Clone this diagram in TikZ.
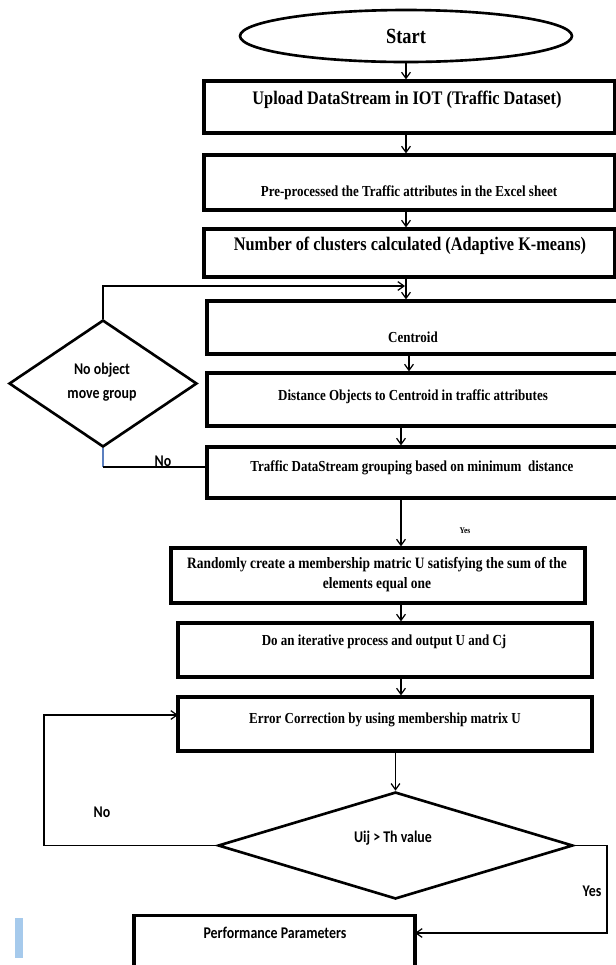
\documentclass[tikz,border=0pt]{standalone}
\usepackage{fontspec}
\setmainfont{Liberation Serif}[FakeStretch=0.85]
\newfontfamily\calibri{Carlito}[FakeStretch=0.85]
\usetikzlibrary{shapes.geometric, arrows.meta}

\definecolor{barblue}{HTML}{A6CAEC}
\definecolor{linkblue}{HTML}{5B7FBF}

\tikzset{
  box/.style={draw, rectangle, line width=1.8pt, inner sep=0pt},
  bigtxt/.style={font=\bfseries\fontsize{10.9}{13}\selectfont},
  smalltxt/.style={font=\bfseries\fontsize{8.7}{10.5}\selectfont, align=center},
  sanstxt/.style={font=\calibri\bfseries\fontsize{9.3}{13.5}\selectfont, align=center},
  decision/.style={draw, diamond, line width=1.5pt, inner sep=0pt},
  link/.style={line width=0.7pt},
  arr/.style={link, -{Straight Barb[length=3.5pt,width=5pt]}},
}

\begin{document}
\begin{tikzpicture}[x=0.02cm, y=-0.02cm]
  \useasboundingbox (0,0) rectangle (616,965);
  \clip (0,0) rectangle (616,965);

  % Start
  \node[draw, ellipse, line width=1.5pt, minimum width=6.64cm, minimum height=1.04cm,
        font=\bfseries\fontsize{12.3}{14}\selectfont] (start) at (406,36) {Start};

  % Upper chain of steps
  \node[box, minimum width=8.22cm, minimum height=1.04cm] (upload) at (409.5,107) {};
  \node[bigtxt] (uploadtxt) at (407,100) {Upload DataStream in IOT (Traffic Dataset)};

  \node[box, minimum width=8.22cm, minimum height=1.1cm] (preproc) at (409.5,182.5) {};
  \node[smalltxt] (preproctxt) at (409,193) {Pre-processed the Traffic attributes in the Excel sheet};

  \node[box, minimum width=8.22cm, minimum height=0.96cm] (number) at (409.5,253) {};
  \node[bigtxt] (numbertxt) at (410,246) {Number of clusters calculated (Adaptive K-means)};

  % Clustering loop
  \node[box, minimum width=8.26cm, minimum height=1.06cm] (centroid) at (413.5,327.5) {};
  \node[smalltxt] (centroidtxt) at (413,337) {Centroid};

  \node[box, minimum width=8.26cm, minimum height=1.06cm] (distance) at (413.5,399.5) {};
  \node[smalltxt] (distancetxt) at (413,397) {Distance Objects to Centroid in traffic attributes};

  \node[box, minimum width=8.26cm, minimum height=1.02cm] (grouping) at (413.5,472.5) {};
  \node[smalltxt] (groupingtxt) at (412,468) {Traffic DataStream grouping based on minimum\ \ distance};

  \node[decision, minimum width=3.76cm, minimum height=2.54cm] (nomove) at (103,383.5) {};
  \node[sanstxt] (nomovetxt) at (102,382) {No object\\move group};

  % Membership steps
  \node[box, minimum width=8.28cm, minimum height=1.1cm] (random) at (378,575.5) {};
  \node[smalltxt, font=\bfseries\fontsize{9}{11}\selectfont] (randomtxt) at (377,574.5)
       {Randomly create a membership matric U satisfying the sum of the\\elements equal one};

  \node[box, minimum width=8.28cm, minimum height=1.08cm] (iterate) at (385,650) {};
  \node[smalltxt] (iteratetxt) at (384,642) {Do an iterative process and output U and Cj};

  \node[box, minimum width=8.28cm, minimum height=1.08cm] (errcor) at (385,724) {};
  \node[smalltxt] (errcortxt) at (385,720) {Error Correction by using membership matrix U};

  \node[decision, minimum width=7.1cm, minimum height=2.14cm] (thresh) at (395.5,845.5) {};
  \node[sanstxt] (threshtxt) at (393,838) {Uij > Th value};

  \node[box, minimum width=5.62cm, minimum height=1.06cm] (perf) at (274.5,942) {};
  \node[sanstxt] (perftxt) at (275,933) {Performance Parameters};

  % Free ends of the connectors
  \coordinate (merge) at (405,286);
  \coordinate (nojoin) at (207,467);
  \coordinate (mainx) at (401,0);
  \coordinate (errin) at (178,715);
  \coordinate (perfin) at (415,933);

  % Main flow
  \draw[arr] (start.south) -- (start.south |- upload.north);
  \draw[arr] (start |- upload.south) -- (start |- preproc.north);
  \draw[arr] (start |- preproc.south) -- (start |- number.north);
  \draw[arr] (start |- number.south) -- (start |- centroid.north);
  \draw[arr] (409,0 |- centroid.south) -- (409,0 |- distance.north);
  \draw[arr] (mainx |- distance.south) -- (mainx |- grouping.north);
  \draw[arr] (mainx |- grouping.south) -- (mainx |- random.north);
  \draw[arr] (mainx |- random.south) -- (mainx |- iterate.north);
  \draw[arr] (mainx |- iterate.south) -- (mainx |- errcor.north);
  \draw[arr] (thresh |- errcor.south) -- (thresh.north);

  % Loop back to centroid
  \draw[arr] (nomove.north) |- (merge);
  \draw[link, linkblue] (nomove.south) -- (nomove.south |- nojoin);
  \draw[link] (nomove.south |- nojoin) -- (nojoin);
  \node[sanstxt] (nolbl) at (163,461) {No};
  \node[font=\bfseries\fontsize{5}{6}\selectfont] (yeslbl) at (465,531) {Yes};

  % Threshold test
  \draw[arr] (thresh.west) -- (44,845.5) |- (errin);
  \node[sanstxt] (nolbl2) at (102,812) {No};
  \draw[arr] (thresh.east) -- (607,845.5) |- (perfin);
  \node[sanstxt] (yeslbl2) at (592,891) {Yes};

  % Side mark
  \fill[barblue] (15,918) rectangle (23,958);
\end{tikzpicture}
\end{document}
